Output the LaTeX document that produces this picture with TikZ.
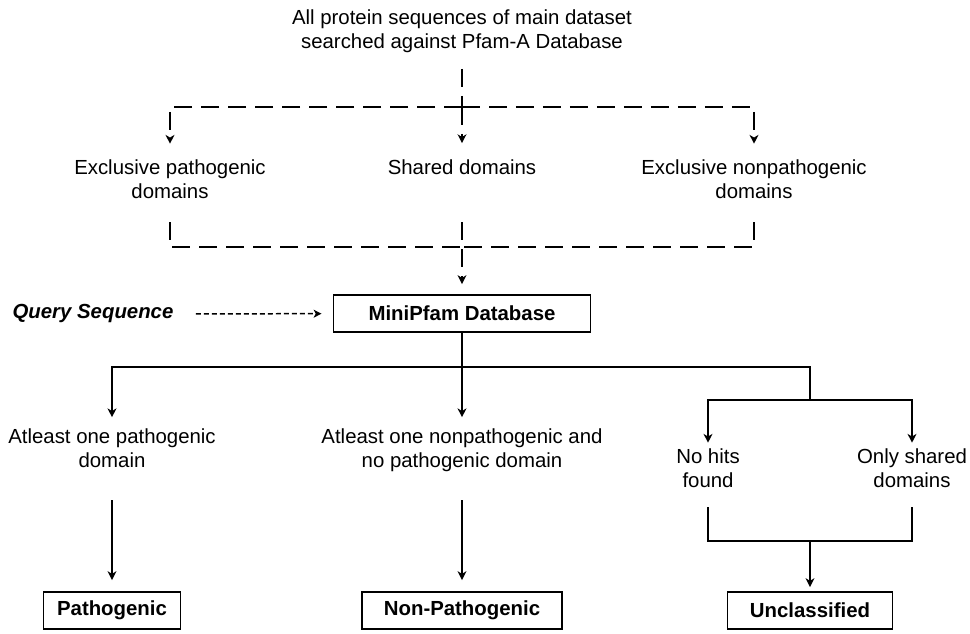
\documentclass[tikz,border=0pt]{standalone}
\usepackage{fontspec}
\setmainfont{Liberation Sans}
\usetikzlibrary{arrows.meta}
\tikzset{
  lbl/.style={align=center, inner sep=0pt, font=\fontsize{11.6pt}{13.6pt}\selectfont},
  querylbl/.style={inner sep=0pt, anchor=base, font=\fontsize{11.6pt}{13.6pt}\selectfont\bfseries\itshape},
  resultbox/.style={draw, line width=1.1pt, rectangle, minimum height=0.74cm, inner sep=0pt, font=\fontsize{11.6pt}{13.6pt}\selectfont\bfseries},
  linkline/.style={line width=1.1pt},
  flow/.style={linkline, -{Stealth[length=5pt, width=5pt, inset=1.5pt]}},
  dashlink/.style={linkline, dash pattern=on 0.36cm off 0.18cm},
  dashflow/.style={flow, dash pattern=on 0.36cm off 0.18cm},
  querydash/.style={line width=0.85pt, dash pattern=on 0.1cm off 0.06cm, -{Stealth[length=4.5pt, width=4.5pt, inset=1.2pt]}}
}

\begin{document}
\begin{tikzpicture}[x=0.02cm, y=-0.02cm]%
\useasboundingbox (0, 0) rectangle (970, 634);%
\node[lbl] (search) at (462, 31) {All protein sequences of main dataset\\searched against Pfam-A Database};%
\node[lbl] (expath) at (170, 179) {Exclusive pathogenic\\domains};%
\node[lbl] (shared) at (462, 167) {Shared domains};%
\node[lbl] (exnonpath) at (754, 179) {Exclusive nonpathogenic\\domains};%
\node[querylbl] (query) at (93, 319) {Query Sequence};%
\node[resultbox, minimum width=5.14cm] (minipfam) at (462, 313.5) {MiniPfam Database};%
\node[lbl] (atpath) at (112, 448) {Atleast one pathogenic\\domain};%
\node[lbl] (atnonpath) at (462, 450) {Atleast one nonpathogenic and\\no pathogenic domain};%
\node[lbl] (nohits) at (708, 468) {No hits\\found};%
\node[lbl] (onlyshared) at (912, 468) {Only shared\\domains};%
\node[resultbox, minimum width=2.74cm] (pathbox) at (112, 610.5) {Pathogenic};%
\node[resultbox, minimum width=4.0cm] (nonpathbox) at (462, 610.5) {Non-Pathogenic};%
\node[resultbox, minimum width=3.3cm] (unclbox) at (810, 610.5) {Unclassified};%
\coordinate (topsplit) at (462, 107);%
\coordinate (botsplit) at (462, 247);%
\coordinate (minisplit) at (462, 367);%
\coordinate (unclsplit) at (810, 400);%
\coordinate (uncljoin) at (810, 541);%
\draw[dashlink, shorten <=0.32cm] (search) -- (topsplit);%
\draw[dashflow, shorten >=0.31cm] (topsplit) -| (expath);%
\draw[dashflow, shorten >=0.32cm] (topsplit) -- (shared);%
\draw[dashflow, shorten >=0.31cm] (topsplit) -| (exnonpath);%
\draw[dashlink, shorten <=0.47cm] (expath) |- (botsplit);%
\draw[dashlink, shorten <=0.47cm] (exnonpath) |- (botsplit);%
\draw[dashflow, shorten <=0.95cm, shorten >=0.2cm] (shared) -- (minipfam);%
\draw[querydash, shorten <=0.44cm, shorten >=0.22cm] (query) -- (minipfam);%
\draw[linkline] (minipfam) -- (minisplit);%
\draw[flow, shorten >=0.22cm] (minisplit) -| (atpath);%
\draw[flow, shorten >=0.22cm] (minisplit) -- (atnonpath);%
\draw[linkline] (minisplit) -| (unclsplit);%
\draw[flow, shorten >=0.11cm] (unclsplit) -| (nohits);%
\draw[flow, shorten >=0.11cm] (unclsplit) -| (onlyshared);%
\draw[flow, shorten <=0.65cm, shorten >=0.22cm] (atpath) -- (pathbox);%
\draw[flow, shorten <=0.57cm, shorten >=0.22cm] (atnonpath) -- (nonpathbox);%
\draw[linkline, shorten <=0.39cm] (nohits) |- (uncljoin);%
\draw[linkline, shorten <=0.39cm] (onlyshared) |- (uncljoin);%
\draw[flow, shorten >=0.08cm] (uncljoin) -- (unclbox);%
\end{tikzpicture}
\end{document}
